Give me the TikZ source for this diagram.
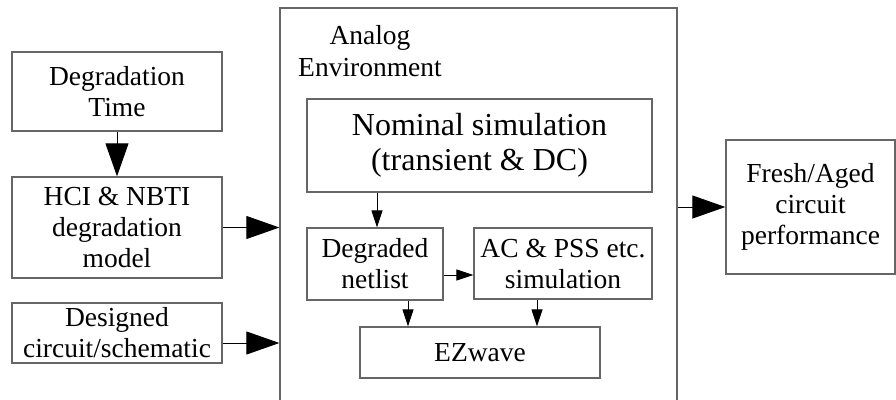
\documentclass[tikz,border=0pt]{standalone}
\usepackage{fontspec}
\setmainfont{Liberation Serif}
\usetikzlibrary{arrows.meta}
\begin{document}
\begin{tikzpicture}[x=1pt,y=-1pt,
  box/.style={draw=black!60, line width=1.3pt, inner sep=0pt, align=center,
    font=\fontsize{27.5}{31}\selectfont},
  bigbox/.style={box, font=\fontsize{32}{35}\selectfont},
  bigarrow/.style={draw=black, line width=1pt, -{Triangle[length=33pt,width=23pt]}},
  smallarrow/.style={draw=black, line width=1pt, -{Triangle[length=17pt,width=11pt]}},
  lbl/.style={inner sep=0pt, align=center, font=\fontsize{27.5}{32}\selectfont}]
\useasboundingbox (0,0) rectangle (896,399);
\fill[white] (0,0) rectangle (896,399);
\node[box, minimum width=210pt, minimum height=79pt] (time) at (117,91.5) {Degradation\\Time};
\node[box, minimum width=210pt, minimum height=101pt] (hci) at (117,227.5) {HCI \& NBTI\\degradation\\model};
\node[box, minimum width=210pt, minimum height=60pt] (design) at (117,333) {Designed\\circuit/schematic};
\node[box, minimum width=397pt, minimum height=420pt] (env) at (478.5,218) {};
\node[lbl] (envlbl) at (370,51) {Analog\\Environment};
\node[bigbox, minimum width=345pt, minimum height=93pt] (nominal) at (479.5,145.5) {Nominal simulation\\(transient \& DC)};
\node[box, minimum width=136pt, minimum height=72pt] (degraded) at (375,264) {Degraded\\netlist};
\node[box, minimum width=178pt, minimum height=71pt] (ac) at (563,263.5) {AC \& PSS etc.\\simulation};
\node[box, minimum width=240pt, minimum height=51pt] (ez) at (480,352.5) {EZwave};
\node[box, minimum width=169pt, minimum height=134pt] (fresh) at (810.5,207) {Fresh/Aged\\circuit\\performance};
\draw[bigarrow] (time.south) -- (hci.north);
\draw[bigarrow] (hci.east) -- (hci.east -| env.west);
\draw[bigarrow] ([yshift=-10pt]design.east) -- ([yshift=-10pt]design.east -| env.west);
\draw[bigarrow] (fresh.west -| env.east) -- (fresh.west);
\draw[smallarrow] ([xshift=2pt]degraded.north |- nominal.south) -- ([xshift=2pt]degraded.north);
\draw[smallarrow] ([yshift=-11pt]degraded.east) -- ([yshift=-11pt]degraded.east -| ac.west);
\draw[smallarrow] ([xshift=33pt]degraded.south) -- ([xshift=33pt]degraded.south |- ez.north);
\draw[smallarrow] ([xshift=-26pt]ac.south) -- ([xshift=-26pt]ac.south |- ez.north);
\end{tikzpicture}
\end{document}
